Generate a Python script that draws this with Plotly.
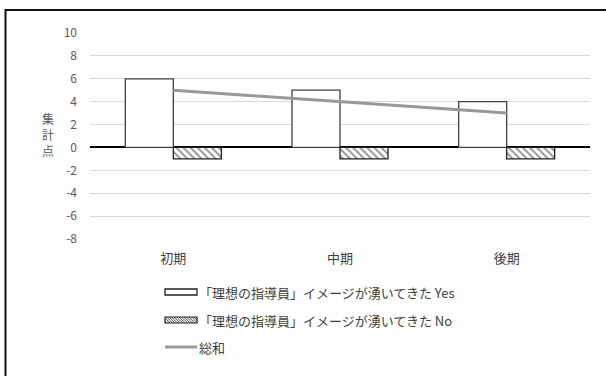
import plotly.graph_objects as go

# Data
categories = ["初期", "中期", "後期"]
yes_values = [6, 5, 4]
no_values = [-1, -1, -1]
total_values = [5, 4, 3]
y_ticks = [-8, -6, -4, -2, 0, 2, 4, 6, 8, 10]
y_tick_labels = [str(v) for v in y_ticks]

yes_name = "「理想の指導員」イメージが湧いてきた Yes"
no_name = "「理想の指導員」イメージが湧いてきた No"
total_name = "総和"
y_title_chars = ["集", "計", "点"]

W, H = 606, 376
L, R, T, B = 90, 16, 33, 137
PW, PH = W - L - R, H - T - B
FONT = "Noto Sans CJK JP, Open Sans, sans-serif"


def fx(px):
    return (px - L) / PW


def fy(py):
    return (H - B - py) / PH


fig = go.Figure()
fig.add_trace(go.Bar(
    x=categories, y=yes_values, name=yes_name,
    marker=dict(color="white", line=dict(color="#404040", width=1.3)),
))
fig.add_trace(go.Bar(
    x=categories, y=no_values, name=no_name,
    marker=dict(color="white", line=dict(color="#202020", width=1.3),
                pattern=dict(shape="\\", fgcolor="#202020", bgcolor="white",
                             size=5, solidity=0.35)),
))
fig.add_trace(go.Scatter(
    x=categories, y=total_values, name=total_name, mode="lines",
    line=dict(color="#999999", width=3),
))

shapes = []
annotations = []

# outer frame
shapes.append(dict(type="rect", xref="paper", yref="paper",
                   x0=fx(5.5), x1=fx(W + 20), y0=fy(10), y1=fy(H + 20),
                   line=dict(color="#111111", width=2), fillcolor="rgba(0,0,0,0)",
                   layer="above"))

# legend
sw_x0, sw_x1 = 165, 197
rows = [292, 320, 347]
# Yes swatch
shapes.append(dict(type="rect", xref="paper", yref="paper",
                   x0=fx(sw_x0), x1=fx(sw_x1), y0=fy(rows[0] - 3), y1=fy(rows[0] + 3),
                   line=dict(color="#202020", width=1.3), fillcolor="white"))
# No swatch with diagonal hatch
top, bot = rows[1] - 3, rows[1] + 3
h = bot - top
path = ""
x = sw_x0 - h
while x < sw_x1:
    xa, ya = x, top
    xb, yb = x + h, bot
    if xa < sw_x0:
        ya = top + (sw_x0 - xa)
        xa = sw_x0
    if xb > sw_x1:
        yb = bot - (xb - sw_x1)
        xb = sw_x1
    if xb > xa:
        path += f"M{fx(xa)},{fy(ya)} L{fx(xb)},{fy(yb)} "
    x += 2.5
shapes.append(dict(type="rect", xref="paper", yref="paper",
                   x0=fx(sw_x0), x1=fx(sw_x1), y0=fy(top), y1=fy(bot),
                   line=dict(width=0), fillcolor="white"))
shapes.append(dict(type="path", xref="paper", yref="paper", path=path,
                   line=dict(color="#202020", width=0.8)))
shapes.append(dict(type="rect", xref="paper", yref="paper",
                   x0=fx(sw_x0), x1=fx(sw_x1), y0=fy(top), y1=fy(bot),
                   line=dict(color="#202020", width=1.2), fillcolor="rgba(0,0,0,0)"))
# total swatch
shapes.append(dict(type="line", xref="paper", yref="paper",
                   x0=fx(sw_x0), x1=fx(sw_x1), y0=fy(rows[2]), y1=fy(rows[2]),
                   line=dict(color="#999999", width=3)))

for name, row in zip([yes_name, no_name, total_name], rows):
    annotations.append(dict(text=name, xref="paper", yref="paper",
                            x=fx(sw_x1), y=fy(row), xanchor="left", yanchor="middle",
                            showarrow=False, font=dict(size=13, color="#404040", family=FONT)))

# y-axis title, one character per line
for ch, py in zip(y_title_chars, [118, 134, 150]):
    annotations.append(dict(text=ch, xref="paper", yref="paper",
                            x=fx(48), y=fy(py), xanchor="center", yanchor="middle",
                            showarrow=False, font=dict(size=12, color="#595959", family=FONT)))

fig.update_layout(
    width=W, height=H,
    margin=dict(l=L, r=R, t=T, b=B),
    paper_bgcolor="white", plot_bgcolor="white",
    barmode="group", bargap=0.424, bargroupgap=0,
    showlegend=False,
    font=dict(family=FONT, color="#595959"),
    shapes=shapes, annotations=annotations,
    xaxis=dict(showgrid=False, showline=False, ticks="", ticklabelstandoff=10,
               tickfont=dict(size=13, color="#404040", family=FONT)),
    yaxis=dict(range=[-8, 10], tickvals=y_ticks, ticktext=y_tick_labels, showgrid=True,
               gridcolor="#d9d9d9", gridwidth=1,
               zeroline=True, zerolinecolor="#000000", zerolinewidth=2,
               showline=False, ticks="", ticklabelstandoff=12,
               tickfont=dict(size=12, color="#595959", family=FONT)),
)

fig.write_html("out.html")
